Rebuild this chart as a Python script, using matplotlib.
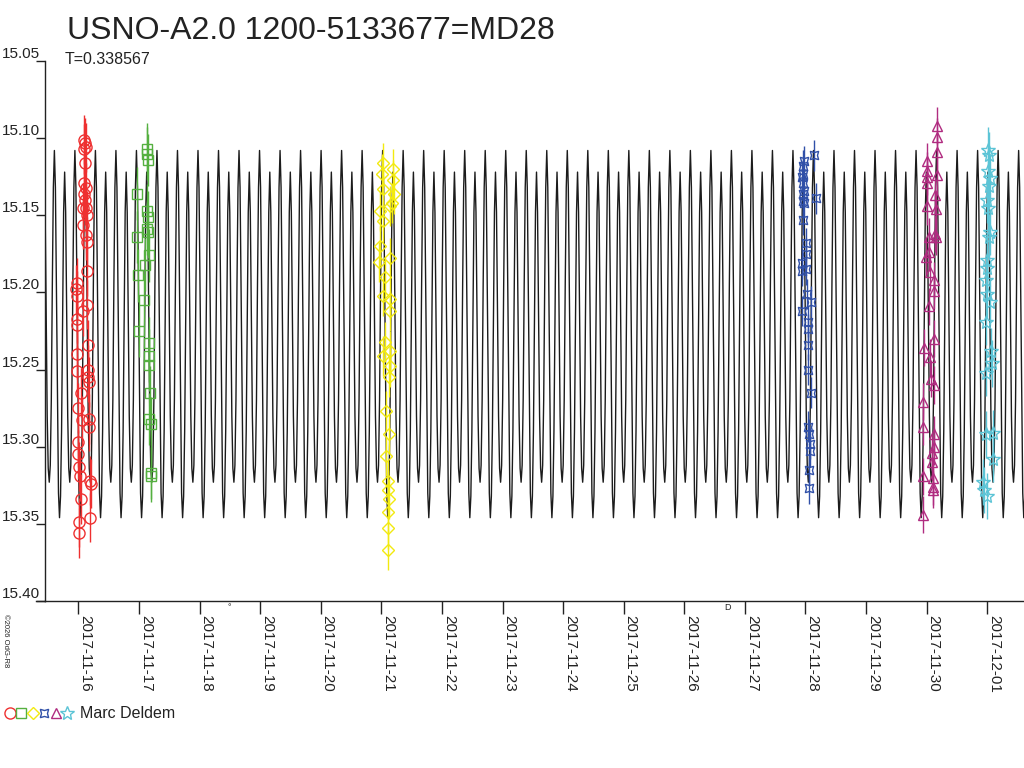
from datetime import datetime

import matplotlib

matplotlib.use("Agg")
import matplotlib.dates as mdates
import numpy as np
from matplotlib import pyplot as plt
from matplotlib.lines import Line2D

plt.rcParams["font.family"] = ["Liberation Sans", "DejaVu Sans"]

TITLE = "USNO-A2.0 1200-5133677=MD28"
OBSERVER = "Marc Deldem"
PERIOD = 0.338567  # days
START = datetime(2017, 11, 16)

# model light curve: one cycle, phase 0 = deepest minimum
CURVE_EPOCH = 0.028  # days after START
CURVE_PHASE = [0.00, 0.05, 0.10, 0.15, 0.20, 0.25, 0.30, 0.35, 0.40, 0.45,
               0.50, 0.55, 0.60, 0.65, 0.70, 0.75, 0.80, 0.85, 0.90, 0.95]
CURVE_MAG = [15.346, 15.332, 15.290, 15.215, 15.148, 15.122, 15.148, 15.212,
             15.280, 15.314, 15.323, 15.312, 15.270, 15.195, 15.132, 15.108,
             15.132, 15.200, 15.275, 15.330]

# observations, hours after START
RED_T = [2.25, 2.65, 3.05, 2.25, 2.65, 2.25, 3.05, 2.25, 2.65, 1.99, 3.05,
         3.31, 1.73, 3.05, 3.57, 3.57, -0.65, -0.91, -0.65, 3.57, 1.73, -0.65,
         -0.65, 3.97, -0.65, -0.39, 3.97, 3.97, 4.37, 0.93, 0.01, 1.33, 4.37,
         4.37, 0.01, 0.01, 0.41, 0.67, 4.63, 4.89, 0.93, 0.41, 0.41, 4.63]
RED_MAG = [15.101, 15.103, 15.106, 15.107, 15.116, 15.129, 15.132, 15.136,
           15.140, 15.145, 15.145, 15.150, 15.156, 15.163, 15.167, 15.186,
           15.194, 15.198, 15.202, 15.208, 15.212, 15.217, 15.221, 15.234,
           15.240, 15.251, 15.250, 15.255, 15.258, 15.265, 15.275, 15.283,
           15.282, 15.287, 15.297, 15.305, 15.313, 15.319, 15.322, 15.324,
           15.334, 15.349, 15.356, 15.346]

GREEN_T = [27.07, 27.33, 27.60, 23.10, 27.07, 27.73, 27.33, 27.73, 23.37,
           27.86, 26.41, 23.77, 26.01, 24.03, 28.13, 28.13, 28.13, 28.39,
           28.13, 28.65, 28.65, 28.65]
GREEN_MAG = [15.107, 15.110, 15.114, 15.136, 15.147, 15.151, 15.159, 15.161,
             15.164, 15.176, 15.182, 15.189, 15.205, 15.225, 15.233, 15.241,
             15.247, 15.265, 15.282, 15.285, 15.317, 15.319]

YELLOW_T = [120.76, 124.72, 120.36, 124.72, 120.76, 125.12, 124.06, 119.44,
            123.40, 120.76, 119.44, 119.04, 123.40, 121.42, 120.76, 123.40,
            123.40, 121.42, 123.40, 120.76, 123.40, 123.00, 121.68, 123.00,
            121.68, 122.48, 122.48, 123.00, 122.74, 122.74, 122.74]
YELLOW_MAG = [15.116, 15.120, 15.123, 15.127, 15.133, 15.136, 15.142, 15.147,
              15.144, 15.154, 15.170, 15.180, 15.178, 15.190, 15.202, 15.204,
              15.212, 15.232, 15.238, 15.241, 15.248, 15.255, 15.277, 15.292,
              15.306, 15.322, 15.328, 15.334, 15.342, 15.353, 15.367]

BLUE_T = [291.5, 287.6, 287.2, 287.2, 286.8, 287.2, 287.6, 292.0, 287.2,
          287.2, 287.6, 287.2, 288.1, 288.1, 286.5, 288.1, 286.5, 288.5,
          290.2, 286.8, 288.9, 288.9, 288.9, 288.9, 290.2, 288.9, 289.4,
          289.8, 289.8, 289.4, 289.4]
BLUE_MAG = [15.111, 15.115, 15.118, 15.123, 15.125, 15.129, 15.134, 15.139,
            15.136, 15.141, 15.142, 15.153, 15.168, 15.175, 15.181, 15.185,
            15.186, 15.201, 15.206, 15.212, 15.219, 15.224, 15.234, 15.250,
            15.265, 15.287, 15.292, 15.298, 15.303, 15.315, 15.327]

PURPLE_T = [340.2, 340.0, 340.0, 336.3, 336.0, 336.0, 340.2, 336.3, 339.3,
            336.3, 339.7, 339.3, 337.1, 339.7, 335.7, 337.1, 337.3, 338.9,
            338.9, 337.1, 338.9, 334.9, 337.3, 337.6, 338.9, 334.7, 334.7,
            338.9, 338.9, 338.0, 338.0, 334.4, 338.4, 338.4, 338.4, 334.4]
PURPLE_MAG = [15.092, 15.099, 15.109, 15.115, 15.121, 15.125, 15.124, 15.129,
              15.137, 15.144, 15.146, 15.162, 15.164, 15.164, 15.177, 15.174,
              15.187, 15.192, 15.199, 15.209, 15.230, 15.236, 15.242, 15.256,
              15.260, 15.271, 15.287, 15.292, 15.300, 15.304, 15.310, 15.319,
              15.320, 15.326, 15.328, 15.344]

CYAN_T = [360.4, 360.8, 360.4, 361.1, 360.8, 360.0, 360.4, 361.1, 360.8,
          360.0, 359.8, 359.5, 360.0, 361.1, 359.5, 361.3, 361.7, 359.5,
          359.5, 362.4, 362.1, 358.4, 358.7, 359.8]
CYAN_MAG = [15.108, 15.111, 15.121, 15.126, 15.131, 15.140, 15.145, 15.161,
            15.164, 15.179, 15.184, 15.192, 15.201, 15.206, 15.219, 15.238,
            15.246, 15.252, 15.292, 15.291, 15.308, 15.323, 15.328, 15.332]

SERIES_ERR = [0.016, 0.017, 0.013, 0.010, 0.012, 0.015]
SERIES_COLORS = ["#ee3030", "#55b040", "#f2ea10", "#3050a8", "#b02c80", "#5cc4d6"]
SERIES_MARKERS = ["o", "s", "D", (4, 1, 45), "^", "*"]
SERIES_SIZES = [8, 6.5, 6.5, 8.5, 7.5, 10]

# moon phases: hours after START
MOON_T = [59.7, 257.05]
MOON_SYMBOLS = ["°", "D"]

TICK_DATES = ["2017-11-%02d" % d for d in range(16, 31)] + ["2017-12-01"]

base = mdates.date2num(START)


def to_x(hours):
    return base + np.asarray(hours) / 24.0


fig = plt.figure(figsize=(10.24, 7.68), dpi=100)
ax = fig.add_axes([45 / 1024, 1 - 601 / 768, 979 / 1024, 540 / 768])

# model curve, repeated every period
cycles = np.arange(-3, 49)
curve_t = (CURVE_EPOCH + (cycles[:, None] + np.asarray(CURVE_PHASE)[None, :]) * PERIOD).ravel()
curve_m = np.tile(CURVE_MAG, len(cycles))
ax.plot(base + curve_t, curve_m, color="#1c1c1c", lw=1.0, zorder=1)

series = [(RED_T, RED_MAG), (GREEN_T, GREEN_MAG), (YELLOW_T, YELLOW_MAG),
          (BLUE_T, BLUE_MAG), (PURPLE_T, PURPLE_MAG), (CYAN_T, CYAN_MAG)]
for (t, m), err, c, mk, ms in zip(series, SERIES_ERR, SERIES_COLORS,
                                  SERIES_MARKERS, SERIES_SIZES):
    ax.errorbar(to_x(t), m, yerr=err, fmt="none", ecolor=c, elinewidth=1.0,
                capsize=0, zorder=2)
    ax.plot(to_x(t), m, ls="none", marker=mk, ms=ms, mfc="none", mec=c,
            mew=1.0, zorder=3)

ax.set_xlim(base - 0.55, base + 15.606)
ax.set_ylim(15.40, 15.05)

for side in ("top", "right"):
    ax.spines[side].set_visible(False)
for side in ("left", "bottom"):
    ax.spines[side].set_color("#222222")
    ax.spines[side].set_linewidth(1.0)
ax.plot([-9 / 979, 0], [0, 0], transform=ax.transAxes, clip_on=False,
        color="#222222", lw=1.0)

ax.set_xticks([mdates.date2num(datetime.strptime(d, "%Y-%m-%d")) for d in TICK_DATES])
ax.set_xticklabels(TICK_DATES, rotation=270, ha="left", va="top",
                   fontsize=11, color="#222222", rotation_mode="default")
ax.tick_params(axis="x", length=9, width=1, color="#222222", pad=1)

yticks = [15.05, 15.10, 15.15, 15.20, 15.25, 15.30, 15.35, 15.40]
ax.set_yticks(yticks)
ax.set_yticklabels(["%.2f" % v for v in yticks], va="bottom", fontsize=11,
                   color="#222222")
ax.tick_params(axis="y", length=6.5, width=1, color="#222222", pad=-3)

for h, sym in zip(MOON_T, MOON_SYMBOLS):
    ax.annotate(sym, xy=(to_x(h), 0), xycoords=("data", "axes fraction"),
                xytext=(0, -7), textcoords="offset pixels", ha="center",
                va="center", fontsize=6.5, color="#222222")

fig.text(67 / 1024, 1 - 39 / 768, TITLE, fontsize=23, va="baseline",
         color="#222222")
fig.text(65 / 1024, 1 - 64 / 768, "T=%s" % PERIOD, fontsize=11.5,
         va="baseline", color="#222222")

# legend row at the bottom
leg_y = 1 - 713 / 768
for i, (c, mk, ms) in enumerate(zip(SERIES_COLORS, SERIES_MARKERS, SERIES_SIZES)):
    fig.add_artist(Line2D([(10 + i * 11.4) / 1024], [leg_y], ls="none",
                          marker=mk, ms=ms, mfc="none", mec=c, mew=1.0,
                          transform=fig.transFigure))
fig.text(80 / 1024, leg_y, OBSERVER, fontsize=11.5, va="center",
         color="#222222")

fig.text(5 / 1024, 1 - 614 / 768, "©2026 OdG-R8", rotation=270, fontsize=5.5,
         ha="center", va="top", color="#222222")

fig.savefig("out.png", dpi=100)
